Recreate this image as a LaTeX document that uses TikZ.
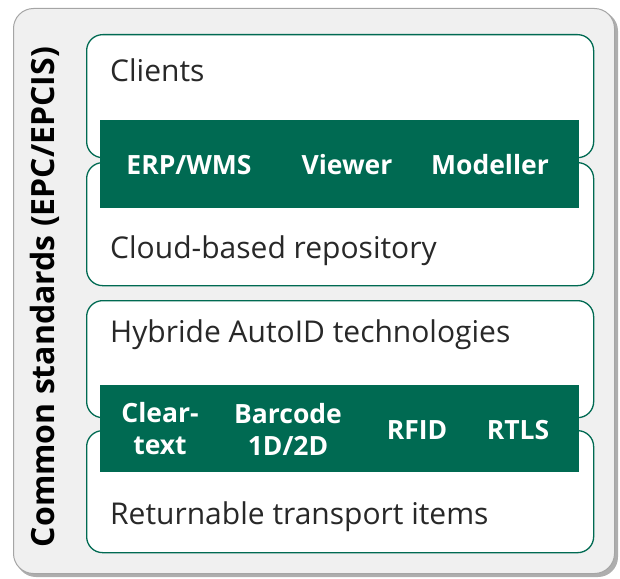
\documentclass[tikz,border=0pt]{standalone}
\usepackage{fontspec}
\setmainfont{Open Sans}
\definecolor{fhgreen}{RGB}{0,106,82}
\definecolor{framefill}{RGB}{240,240,240}
\definecolor{frameedge}{RGB}{165,165,165}
\definecolor{frameshade}{RGB}{120,120,120}
\definecolor{labeltext}{RGB}{40,40,40}
\usetikzlibrary{positioning}

\begin{document}
\begin{tikzpicture}[x=1pt,y=-1pt,
  layerbox/.style={draw=fhgreen, line width=1.3pt, fill=white, rounded corners=16pt, minimum width=507pt, anchor=north west, inner sep=0pt},
  band/.style={fill=fhgreen, minimum width=479pt, minimum height=88pt, anchor=north west, inner sep=0pt},
  layertext/.style={anchor=west, inner sep=0pt, text=labeltext, font=\fontsize{30}{34}\selectfont},
  bandtext/.style={text=white, align=center, inner sep=0pt, font=\fontsize{26.5}{32}\selectfont\bfseries}]
  \useasboundingbox (0,0) rectangle (620,578);

  % outer frame with shadow
  \fill[frameshade!60, rounded corners=20pt] (16,11) rectangle (618,577);
  \node[draw=frameedge, line width=1pt, fill=framefill, rounded corners=20pt, anchor=north west, minimum width=601pt, minimum height=565pt, inner sep=0pt] (frame) at (13,8) {};
  \node[rotate=90, inner sep=0pt, font=\fontsize{32}{34}\selectfont\bfseries] (standards) at (45,297) {Common standards (EPC/EPCIS)};

  % upper pair of layers
  \node[layerbox, minimum height=123pt] (clients) at (86,34) {};
  \node[layerbox, minimum height=123pt] (cloud) at (86,162) {};
  \node[band] (appband) at (100,120) {};
  \node[layertext] (clientslabel) at (110,70) {Clients};
  \node[layertext] (cloudlabel) at (110,251) {Cloud-based repository};
  \node[bandtext] (erp) at (189,165) {ERP/WMS};
  \node[bandtext] (viewer) at (347,165) {Viewer};
  \node[bandtext] (modeller) at (490,165) {Modeller};

  % lower pair of layers
  \node[layerbox, minimum height=117pt] (autoid) at (86,300) {};
  \node[layerbox, minimum height=122pt] (rti) at (86,430) {};
  \node[band, minimum height=87pt] (idband) at (100,385) {};
  \node[layertext] (autoidlabel) at (110,335) {Hybride AutoID technologies};
  \node[layertext] (rtilabel) at (110,517) {Returnable transport items};
  \node[bandtext] (cleartext) at (160,429) {Clear-\\text};
  \node[bandtext] (barcode) at (288,429) {Barcode\\1D/2D};
  \node[bandtext] (rfid) at (417,430) {RFID};
  \node[bandtext] (rtls) at (518,430) {RTLS};
\end{tikzpicture}
\end{document}
